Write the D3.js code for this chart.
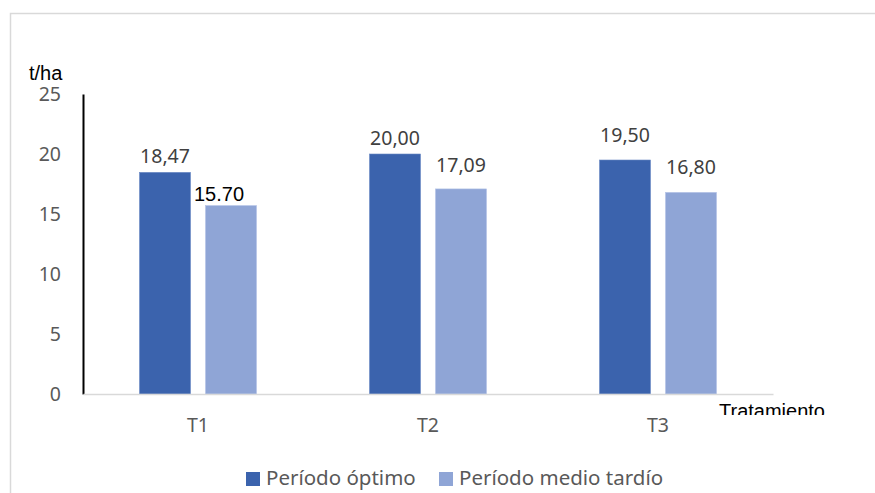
<!DOCTYPE html>
<html>
<head>
<meta charset="utf-8">
<script src="https://cdn.jsdelivr.net/npm/d3@7"></script>
<style>
  body { margin: 0; background: #fff; }
  svg { display: block; }
</style>
</head>
<body>
<div id="figure"></div>
<script>
var categories = ["T1", "T2", "T3"];
var seriesNames = ["Período óptimo", "Período medio tardío"];
var optimo = [18.47, 20.00, 19.50];
var tardio = [15.70, 17.09, 16.80];
var labelsOptimo = ["18,47", "20,00", "19,50"];
var labelsTardio = ["15.70", "17,09", "16,80"];
var yTicks = [0, 5, 10, 15, 20, 25];

var colors = ["#3b63ad", "#8fa5d6"];
var W = 875, H = 493;
var plotL = 83, plotR = 773, plotT = 94, plotB = 394;
var font = "'Noto Sans', 'Open Sans', sans-serif";

var svg = d3.select("#figure").append("svg").attr("width", W).attr("height", H);

// chart frame
svg.append("path")
	.attr("d", "M10.5," + H + "V13.5H" + W)
	.attr("fill", "none")
	.attr("stroke", "#d9d9d9")
	.attr("stroke-width", 1.5);

var x = d3.scaleBand().domain(categories).range([plotL, plotR]);
var y = d3.scaleLinear().domain([0, 25]).range([plotB, plotT]);

var barW = 51, gap = 15;
var series = [optimo, tardio];
var labels = [labelsOptimo, labelsTardio];
// nudges of each data label above its bar (as in the original chart)
var labelDy = [[-9, -9, -18], [-5, -17, -18]];

series.forEach(function(vals, s) {
	svg.selectAll("rect.s" + s)
		.data(vals)
		.enter()
		.append("rect")
		.attr("class", "s" + s)
		.attr("x", function(d, i) {
			var c = x(categories[i]) + x.bandwidth() / 2;
			return s == 0 ? c - gap / 2 - barW : c + gap / 2;
		})
		.attr("y", function(d) { return y(d); })
		.attr("width", barW)
		.attr("height", function(d) { return y(0) - y(d); })
		.attr("fill", colors[s])
		.attr("stroke", s == 0 ? "#6a89c4" : "#b3c2e6")
		.attr("stroke-width", 0.6);

	svg.selectAll("text.l" + s)
		.data(vals)
		.enter()
		.append("text")
		.attr("class", "l" + s)
		.attr("x", function(d, i) {
			var c = x(categories[i]) + x.bandwidth() / 2;
			var bc = s == 0 ? c - gap / 2 - barW / 2 : c + gap / 2 + barW / 2;
			if (s == 1 && i == 0) bc -= 12;
			return bc;
		})
		.attr("y", function(d, i) { return y(d) + labelDy[s][i]; })
		.attr("text-anchor", "middle")
		.attr("font-family", function(d, i) { return (s == 1 && i == 0) ? "'Liberation Sans', Arial, sans-serif" : font; })
		.attr("font-size", function(d, i) { return (s == 1 && i == 0) ? "20px" : "19.5px"; })
		.attr("fill", function(d, i) { return (s == 1 && i == 0) ? "#000" : "#404040"; })
		.text(function(d, i) { return labels[s][i]; });
});

// y axis
var yAxis = svg.append("g")
	.attr("transform", "translate(" + plotL + ",0)")
	.call(d3.axisLeft(y).tickValues(yTicks).tickSize(0).tickPadding(22));
yAxis.select(".domain").attr("stroke", "#000").attr("stroke-width", 2);
yAxis.selectAll("text")
	.attr("font-family", font)
	.attr("font-size", "19.5px")
	.attr("fill", "#595959")
	.attr("dy", "0.34em");

// x axis
var xAxis = svg.append("g")
	.attr("transform", "translate(0," + plotB + ")")
	.call(d3.axisBottom(x).tickSize(0).tickPadding(24));
xAxis.select(".domain").attr("stroke", "#d9d9d9").attr("stroke-width", 1.5);
xAxis.selectAll("text")
	.attr("font-family", font)
	.attr("font-size", "19.5px")
	.attr("fill", "#595959");

svg.append("text")
	.text("t/ha")
	.attr("x", 29)
	.attr("y", 80)
	.attr("font-family", "'Liberation Sans', Arial, sans-serif")
	.attr("font-size", "20px")
	.attr("fill", "#000");

// axis title, cut at the bottom like in the source
svg.append("clipPath").attr("id", "cut")
	.append("rect").attr("x", 700).attr("y", 395).attr("width", 175).attr("height", 20);
svg.append("text")
	.text("Tratamiento")
	.attr("x", 719)
	.attr("y", 418)
	.attr("clip-path", "url(#cut)")
	.attr("font-family", "'Liberation Sans', Arial, sans-serif")
	.attr("font-size", "20px")
	.attr("fill", "#000");

// legend
var legendX = [246, 439];
var lg = svg.selectAll("g.legend")
	.data(seriesNames)
	.enter()
	.append("g")
	.attr("class", "legend")
	.attr("transform", function(d, i) { return "translate(" + legendX[i] + ",472)"; });
lg.append("rect")
	.attr("width", 14)
	.attr("height", 14)
	.attr("fill", function(d, i) { return colors[i]; });
lg.append("text")
	.attr("x", 20)
	.attr("y", 13)
	.attr("font-family", font)
	.attr("font-size", "20.5px")
	.attr("fill", "#595959")
	.text(function(d) { return d; });
</script>
</body>
</html>
